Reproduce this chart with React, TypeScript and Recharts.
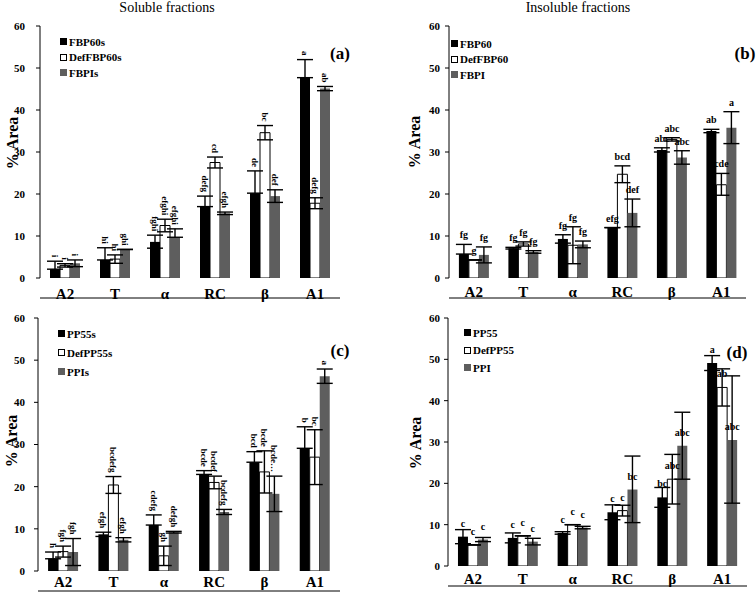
import React from 'react';
import { BarChart, Bar, XAxis, YAxis, ErrorBar, LabelList, Legend } from 'recharts';

const FONT = "'Liberation Serif', 'Times New Roman', serif";

const categories = ['A2', 'T', 'α', 'RC', 'β', 'A1'];
const yTicks = [0, 10, 20, 30, 40, 50, 60];
const boundaryTicks = [0, 1, 2, 3, 4, 5, 6];
const FILLS = ['#000000', '#ffffff', '#5e5e5e'];

// ---- Panel (a): Soluble fractions, FBP ----
const aNames = ['FBP60s', 'DefFBP60s', 'FBPIs'];
const aFBP60s = [2.1, 4.3, 8.6, 17.0, 20.2, 47.7];
const aFBP60sErr = [[0, 1.9], [0, 2.9], [1.5, 1.6], [0, 2.5], [0, 5.3], [0, 4.3]];
const aDefFBP60s = [3.0, 4.5, 12.5, 27.5, 34.6, 17.8];
const aDefFBP60sErr = [[0.4, 0.4], [1, 1], [1.5, 1.5], [1.3, 1.3], [1.7, 1.7], [1.3, 1.3]];
const aFBPIs = [3.5, 6.8, 9.7, 15.4, 19.5, 45.1];
const aFBPIsErr = [[0.8, 0.8], [0, 0], [0, 2], [0.3, 0.3], [1.5, 1.5], [0.5, 0.5]];
const aLab1 = ['i', 'hi', 'fghi', 'defg', 'de', 'a'];
const aLab2 = ['i', 'hi', 'efghi', 'cd', 'bc', 'defg'];
const aLab3 = ['i', 'ghi', 'efghi', 'efgh', 'def', 'ab'];

// ---- Panel (b): Insoluble fractions, FBP ----
const bNames = ['FBP60', 'DefFBP60', 'FBPI'];
const bFBP60 = [5.7, 7.1, 9.3, 12.0, 30.5, 35.0];
const bFBP60Err = [[0, 2.3], [0.2, 0.2], [1, 1], [0, 0], [0.5, 0.5], [0.4, 0.4]];
const bDefFBP60 = [4.3, 8.1, 7.8, 24.7, 33.0, 22.2];
const bDefFBP60Err = [[0, 0], [0.5, 0.5], [4.4, 4.4], [2, 2], [0.4, 0.4], [2.5, 2.7]];
const bFBPI = [5.5, 6.2, 8.0, 15.5, 28.7, 35.8];
const bFBPIErr = [[1.9, 1.9], [0.3, 0.3], [0.8, 0.8], [3.3, 3.3], [1.6, 1.6], [3.8, 3.8]];
const bLab1 = ['fg', 'fg', 'fg', 'efg', 'abc', 'ab'];
const bLab2 = ['g', 'fg', 'fg', 'bcd', 'abc', 'cde'];
const bLab3 = ['fg', 'fg', 'fg', 'def', 'abc', 'a'];

// ---- Panel (c): Soluble fractions, PP ----
const cNames = ['PP55s', 'DefPP55s', 'PPIs'];
const cPP55s = [2.9, 8.7, 10.9, 22.9, 25.8, 29.1];
const cPP55sErr = [[0, 1.6], [0.5, 0.5], [0, 2.4], [0, 0.9], [0, 2.5], [0, 5.1]];
const cDefPP55s = [4.6, 20.4, 3.6, 21.0, 23.5, 27.0];
const cDefPP55sErr = [[1.3, 1.3], [2, 2], [2.3, 2.3], [1.5, 1.5], [5, 5], [6.5, 6.5]];
const cPPIs = [4.5, 7.4, 9.2, 14.0, 18.3, 46.2];
const cPPIsErr = [[3.2, 3.2], [0.5, 0.5], [0.2, 0.2], [0.6, 0.6], [4.2, 4.2], [1.7, 1.7]];
const cLab1 = ['h', 'efgh', 'cdefg', 'bcde', 'bcd', 'b'];
const cLab2 = ['fgh', 'bcdefg', 'gh', 'bcdef', 'bcde', 'bc'];
const cLab3 = ['fgh', 'efgh', 'defgh', 'bcdefg', 'bcde…', 'a'];

// ---- Panel (d): Insoluble fractions, PP ----
const dNames = ['PP55', 'DefPP55', 'PPI'];
const dPP55 = [7.1, 6.8, 8.0, 13.0, 16.6, 49.1];
const dPP55Err = [[1.7, 1.7], [1.2, 1.2], [0.3, 0.3], [1.8, 1.8], [2.4, 2.4], [1.8, 1.8]];
const dDefPP55 = [5.1, 7.3, 10.0, 13.4, 21.0, 43.2];
const dDefPP55Err = [[0, 0], [0, 0], [0, 0], [1.3, 1.3], [6, 6], [4.5, 4.5]];
const dPPI = [6.4, 5.9, 9.3, 18.5, 29.1, 30.5];
const dPPIErr = [[0.5, 0.5], [0.8, 0.8], [0.3, 0.3], [8, 8.1], [8.1, 8.1], [15.3, 15.5]];
const dLab1 = ['c', 'c', 'c', 'c', 'bc', 'a'];
const dLab2 = ['c', 'c', 'c', 'c', 'abc', 'ab'];
const dLab3 = ['c', 'c', 'c', 'bc', 'abc', 'abc'];

type Cfg = {
  left: number; top: number; width: number; height: number;
  margin: { top: number; right: number; bottom: number; left: number };
  yTickMargin: number; xTickMargin: number;
  legendLeft: number; legendTop: number; legendLH: number;
  names: string[]; vals: number[][]; errs: number[][][]; labs: string[][];
  labelMode: 'rot' | 'err' | 'bar';
};

const panels: Cfg[] = [
  {
    left: 0, top: 0, width: 378, height: 312,
    margin: { top: 26, right: 38, left: 10, bottom: 13 },
    yTickMargin: 11, xTickMargin: 10,
    legendLeft: 60, legendTop: 34, legendLH: 15.5,
    names: aNames, vals: [aFBP60s, aDefFBP60s, aFBPIs], errs: [aFBP60sErr, aDefFBP60sErr, aFBPIsErr],
    labs: [aLab1, aLab2, aLab3], labelMode: 'rot',
  },
  {
    left: 378, top: 0, width: 378, height: 312,
    margin: { top: 26, right: 10, left: 41, bottom: 13 },
    yTickMargin: 5, xTickMargin: 8,
    legendLeft: 73, legendTop: 36, legendLH: 15.5,
    names: bNames, vals: [bFBP60, bDefFBP60, bFBPI], errs: [bFBP60Err, bDefFBP60Err, bFBPIErr],
    labs: [bLab1, bLab2, bLab3], labelMode: 'err',
  },
  {
    left: 0, top: 290, width: 378, height: 309,
    margin: { top: 28, right: 38, left: 8, bottom: 7 },
    yTickMargin: 9, xTickMargin: 5,
    legendLeft: 58, legendTop: 34, legendLH: 19,
    names: cNames, vals: [cPP55s, cDefPP55s, cPPIs], errs: [cPP55sErr, cDefPP55sErr, cPPIsErr],
    labs: [cLab1, cLab2, cLab3], labelMode: 'rot',
  },
  {
    left: 378, top: 290, width: 378, height: 309,
    margin: { top: 28, right: 9, left: 40, bottom: 12 },
    yTickMargin: 4, xTickMargin: 7,
    legendLeft: 86, legendTop: 34, legendLH: 17.5,
    names: dNames, vals: [dPP55, dDefPP55, dPPI], errs: [dPP55Err, dDefPP55Err, dPPIErr],
    labs: [dLab1, dLab2, dLab3], labelMode: 'bar',
  },
];

function makeLabel(cfg: Cfg, k: number) {
  return (props: any) => {
    const vb = props.viewBox || {};
    const x = Number(props.x ?? vb.x);
    const y = Number(props.y ?? vb.y);
    const w = Number(props.width ?? vb.width);
    const h = Number(props.height ?? vb.height);
    const i = props.index;
    if (i == null || !isFinite(x)) return null;
    const v = cfg.vals[k][i];
    const up = cfg.errs[k][i][1];
    const ppu = v ? h / v : 0;
    const cx = x + w / 2;
    const text = cfg.labs[k][i];
    if (cfg.labelMode === 'rot') {
      const ty = y - up * ppu - 4;
      return (
        <text x={cx} y={ty} transform={`rotate(90 ${cx} ${ty})`} textAnchor="end"
          dominantBaseline="central" fontSize={9} fontWeight="bold" fontFamily={FONT} fill="#000">
          {text}
        </text>
      );
    }
    const ty = cfg.labelMode === 'err' ? y - up * ppu - 6 : y - 10;
    return (
      <text x={cx} y={ty} textAnchor="middle" fontSize={10} fontWeight="bold" fontFamily={FONT} fill="#000">
        {text}
      </text>
    );
  };
}

function makeLegend(cfg: Cfg) {
  return (props: any) => {
    const payload = [...(props.payload || [])].sort(
      (p: any, q: any) => cfg.names.indexOf(p.value) - cfg.names.indexOf(q.value));
    return (
      <div style={{ fontFamily: FONT, fontWeight: 'bold', fontSize: 11, color: '#000' }}>
        {payload.map((p: any) => {
          const i = cfg.names.indexOf(p.value);
          return (
            <div key={p.value} style={{ display: 'flex', alignItems: 'center', height: cfg.legendLH, whiteSpace: 'nowrap' }}>
              <span style={{
                display: 'inline-block', width: 7, height: 7, marginRight: 2, boxSizing: 'border-box',
                background: FILLS[i], border: i === 1 ? '1px solid #000' : 'none',
              }} />
              {p.value}
            </div>
          );
        })}
      </div>
    );
  };
}

function Panel({ cfg }: { cfg: Cfg }) {
  const rows = categories.map((c, i) => ({
    cat: c,
    v0: cfg.vals[0][i], v1: cfg.vals[1][i], v2: cfg.vals[2][i],
    e0: cfg.errs[0][i], e1: cfg.errs[1][i], e2: cfg.errs[2][i],
    l0: cfg.labs[0][i], l1: cfg.labs[1][i], l2: cfg.labs[2][i],
  }));
  const tickStyle = { fill: '#000', fontFamily: FONT, fontWeight: 'bold' };
  return (
    <div style={{ position: 'absolute', left: cfg.left, top: cfg.top, width: cfg.width, height: cfg.height }}>
      <BarChart width={cfg.width} height={cfg.height} data={rows} margin={cfg.margin}
        barCategoryGap="20%" barGap={0}>
        <XAxis xAxisId="b" type="number" domain={[0, 6]} ticks={boundaryTicks} tick={false}
          tickSize={5} height={1} stroke="#000" allowDataOverflow />
        <XAxis xAxisId="a" dataKey="cat" axisLine={false} tickLine={false} tickSize={0}
          tickMargin={cfg.xTickMargin} height={20} interval={0}
          tick={{ ...tickStyle, fontSize: 15 }} />
        <YAxis domain={[0, 60]} ticks={yTicks} width={30} tickSize={4} tickMargin={cfg.yTickMargin}
          stroke="#000" interval={0} allowDataOverflow tick={{ ...tickStyle, fontSize: 11 }} />
        <Legend layout="vertical" align="center" verticalAlign="middle"
          wrapperStyle={{ left: cfg.legendLeft, top: cfg.legendTop, width: 120 }}
          content={makeLegend(cfg)} />
        {[0, 1, 2].map((k) => (
          <Bar key={k} xAxisId="a" dataKey={'v' + k} name={cfg.names[k]} fill={FILLS[k]}
            stroke={k === 1 ? '#000' : 'none'} strokeWidth={k === 1 ? 1 : 0} isAnimationActive={false}>
            <ErrorBar dataKey={'e' + k} width={8} stroke="#000" strokeWidth={1.4} direction="y" />
            <LabelList dataKey={'l' + k} content={makeLabel(cfg, k)} />
          </Bar>
        ))}
      </BarChart>
    </div>
  );
}

const overlayText = (text: string, x: number, y: number, style: React.CSSProperties, rotate = false) => (
  <div style={{
    position: 'absolute', left: x, top: y, whiteSpace: 'nowrap', fontFamily: FONT, color: '#000', lineHeight: 1,
    transform: `translate(-50%, -50%)${rotate ? ' rotate(-90deg)' : ''}`, ...style,
  }}>{text}</div>
);

export default function App() {
  return (
    <div style={{ position: 'absolute', left: 0, top: 0, width: 756, height: 599, background: '#fff', overflow: 'hidden' }}>
      {panels.map((p, i) => <Panel key={i} cfg={p} />)}
      {overlayText('Soluble fractions', 167, 8, { fontSize: 14 })}
      {overlayText('Insoluble fractions', 578, 8, { fontSize: 14 })}
      {overlayText('% Area', 13, 143, { fontSize: 16, fontWeight: 'bold' }, true)}
      {overlayText('% Area', 415, 142, { fontSize: 16, fontWeight: 'bold' }, true)}
      {overlayText('% Area', 12, 441, { fontSize: 16, fontWeight: 'bold' }, true)}
      {overlayText('% Area', 416, 443, { fontSize: 16, fontWeight: 'bold' }, true)}
      {overlayText('(a)', 340, 53, { fontSize: 17, fontWeight: 'bold' })}
      {overlayText('(b)', 745, 53, { fontSize: 17, fontWeight: 'bold' })}
      {overlayText('(c)', 340, 350, { fontSize: 17, fontWeight: 'bold' })}
      {overlayText('(d)', 737, 352, { fontSize: 17, fontWeight: 'bold' })}
    </div>
  );
}
